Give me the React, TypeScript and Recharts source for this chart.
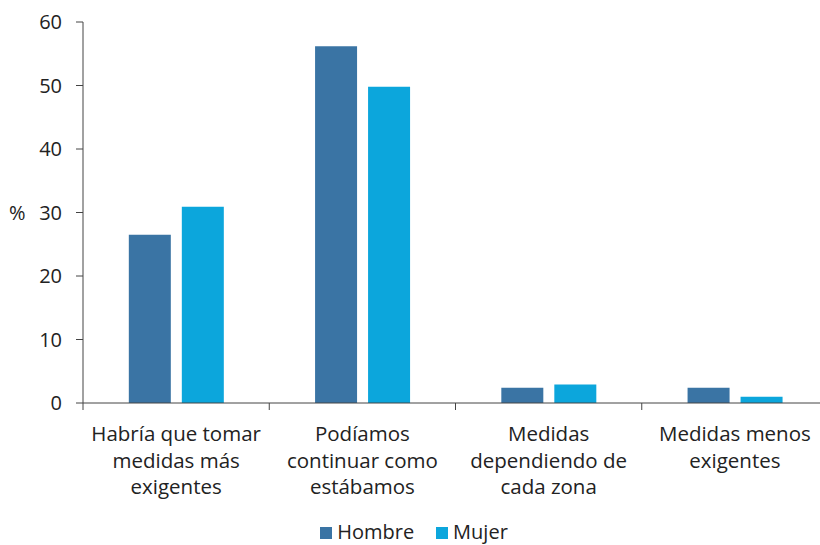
import React from 'react';
import { BarChart, Bar, XAxis, YAxis, Legend } from 'recharts';

const categories = [
  'Habría que tomar\nmedidas más\nexigentes',
  'Podíamos\ncontinuar como\nestábamos',
  'Medidas\ndependiendo de\ncada zona',
  'Medidas menos\nexigentes',
];
const hombre = [26.5, 56.2, 2.4, 2.4];
const mujer = [30.9, 49.8, 2.9, 1.0];
const yTicks = [0, 10, 20, 30, 40, 50, 60];

const series = [
  { key: 'hombre', name: 'Hombre', color: '#3a74a4' },
  { key: 'mujer', name: 'Mujer', color: '#0ca6dc' },
];

const data = categories.map((c, i) => ({ cat: c, hombre: hombre[i], mujer: mujer[i] }));

const FONT = '"Open Sans", Lato, sans-serif';
const TEXT = '#222';
const AXIS = '#444';

const W = 840;
const H = 545;
const margin = { top: 22, right: 12, left: 0, bottom: 0 };
const yAxisW = 83;
const band = (W - margin.left - margin.right - yAxisW) / categories.length;

const CatTick = (props: any) => {
  const { x, y, payload, index } = props;
  const lines = String(payload.value).split('\n');
  return (
    <g>
      <line x1={x - band / 2} y1={y} x2={x - band / 2} y2={y + 7} stroke={AXIS} strokeWidth={1} />
      {index === categories.length - 1 && (
        <line x1={x + band / 2} y1={y} x2={x + band / 2} y2={y + 7} stroke={AXIS} strokeWidth={1} />
      )}
      <text x={x} y={y} textAnchor="middle" fontFamily={FONT} fontSize={20.5} fill={TEXT}>
        {lines.map((l, i) => (
          <tspan key={i} x={x} y={y + 38 + i * 26.5}>{l}</tspan>
        ))}
      </text>
    </g>
  );
};

const LegendBox = () => (
  <div style={{ height: 37, display: 'flex', justifyContent: 'center', alignItems: 'flex-start', paddingTop: 12, boxSizing: 'border-box', fontFamily: FONT, fontSize: 20, color: TEXT }}>
    {series.map((s) => (
      <div key={s.key} style={{ display: 'flex', alignItems: 'center', margin: '0 11px', lineHeight: '24px' }}>
        <span style={{ width: 12, height: 12, background: s.color, display: 'inline-block', marginRight: 5, marginTop: 2 }} />
        {s.name}
      </div>
    ))}
  </div>
);

export default function App() {
  return (
    <div style={{ position: 'fixed', top: 0, left: 0, width: 820, height: 545, overflow: 'hidden', background: '#fff' }}>
      <BarChart width={W} height={H} data={data} margin={margin} barCategoryGap="24.6%" barGap={11}>
        <XAxis
          dataKey="cat"
          interval={0}
          height={105}
          tickLine={false}
          tickSize={0}
          tickMargin={0}
          axisLine={{ stroke: AXIS }}
          tick={<CatTick />}
        />
        <YAxis
          width={yAxisW}
          domain={[0, 60]}
          ticks={yTicks}
          interval={0}
          tickSize={7}
          tickMargin={14}
          axisLine={{ stroke: AXIS }}
          tickLine={{ stroke: AXIS }}
          tick={{ fontFamily: FONT, fontSize: 20, fill: TEXT }}
          label={{ value: '%', position: 'insideLeft', offset: 9, fontFamily: FONT, fontSize: 20, fill: TEXT }}
        />
        <Legend verticalAlign="bottom" content={<LegendBox />} />
        {series.map((s) => (
          <Bar key={s.key} dataKey={s.key} name={s.name} fill={s.color} isAnimationActive={false} />
        ))}
      </BarChart>
    </div>
  );
}
